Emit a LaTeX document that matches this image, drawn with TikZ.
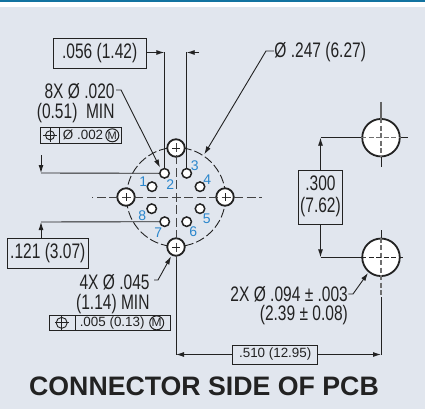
\documentclass[tikz,border=0pt]{standalone}
\usepackage{fontspec}
\usetikzlibrary{arrows.meta}
\setmainfont{Liberation Sans}
\newfontfamily\narrowfont[FakeStretch=0.74]{Liberation Sans}
\definecolor{panel}{HTML}{E1E6EE}
\definecolor{stripe}{HTML}{1273A0}
\definecolor{pinblue}{HTML}{2A86CC}
\definecolor{ink}{HTML}{222222}
\begin{document}
\begin{tikzpicture}[x=1pt,y=-1pt,line width=0.9pt,draw=ink,text=ink]
    \tikzset{hole/.style = {shape=circle,draw,fill=white,line width=1.8pt,inner sep=0pt}}
    \tikzset{pin/.style = {hole,minimum size=9.5pt,line width=1.5pt}}
    \tikzset{big/.style = {hole,minimum size=17.5pt}}
    \tikzset{huge/.style = {hole,minimum size=37.5pt}}
    \tikzset{num/.style = {text=pinblue,inner sep=0pt,font=\fontsize{14}{16}\selectfont}}
    \tikzset{dim/.style = {inner sep=0pt,font=\narrowfont\fontsize{21}{23}\selectfont}}
    \tikzset{small/.style = {inner sep=0pt,font=\fontsize{13.4}{15}\selectfont}}
    \tikzset{box/.style = {shape=rectangle,draw,inner sep=0pt}}
    \tikzset{edge/.style = {-{Latex[length=8pt,width=5pt]}}}
    \tikzset{axis/.style = {draw=ink!85,line width=1pt,dash pattern=on 9pt off 3.5pt,dash phase=4.5pt}}
    \tikzset{inner/.style = {draw=ink!65,line width=1.2pt,dash pattern=on 5pt off 2.5pt}}
    \tikzset{ring/.style = {shape=circle,draw,inner sep=0pt}}

    \fill[white] (0,0) rectangle (425,409);
    \fill[panel] (0,7) rectangle (425,409);
    \fill[stripe] (0,0) rectangle (425,1.7);

    % connector
    \coordinate (mid) at (176,197);
    \draw[dash pattern=on 9pt off 3pt] (mid) circle (49.5);
    \node[big] (holeT) at (176,148) {};
    \node[big] (holeL) at (126,197) {};
    \node[big] (holeR) at (225,197) {};
    \node[big] (holeB) at (176,247) {};
    \node[pin] (1) at (152,186.7) {};
    \node[pin] (2) at (164.5,173.3) {};
    \node[pin] (3) at (186.7,173.3) {};
    \node[pin] (4) at (200,186.7) {};
    \node[pin] (5) at (200,208.7) {};
    \node[pin] (6) at (186.7,221.7) {};
    \node[pin] (7) at (164.7,221.7) {};
    \node[pin] (8) at (151.7,208.7) {};
    \node[num] (lab1) at (143.3,181.7) {1};
    \node[num] (lab2) at (170.3,184.5) {2};
    \node[num] (lab3) at (194.7,165.3) {3};
    \node[num] (lab4) at (207.3,179.3) {4};
    \node[num] (lab5) at (206.7,218.7) {5};
    \node[num] (lab6) at (193.3,231.3) {6};
    \node[num] (lab7) at (158.3,232.3) {7};
    \node[num] (lab8) at (142.3,215.3) {8};

    \coordinate (cl1) at (92,197);
    \coordinate (cl2) at (262,197);
    \coordinate (cl3) at (176,139);
    \coordinate (cl4) at (176,260);
    \draw[axis] (mid) -- (cl1);
    \draw[axis] (mid) -- (cl2);
    \draw[axis] (mid) -- (cl3);
    \draw[axis] (mid) -- (cl4);
    \draw ([xshift=-4pt]holeT.center) -- ([xshift=4pt]holeT.center);
    \draw ([xshift=-4pt]holeB.center) -- ([xshift=4pt]holeB.center);
    \draw ([yshift=-4pt]holeL.center) -- ([yshift=4pt]holeL.center);
    \draw ([yshift=-4pt]holeR.center) -- ([yshift=4pt]holeR.center);

    % right holes
    \node[huge] (upper) at (381,137.7) {};
    \node[huge] (lower) at (381,257.3) {};
    \coordinate (up1) at (381,102);
    \coordinate (up2) at (381,167);
    \coordinate (up4) at (408,137.7);
    \coordinate (lo1) at (381,230);
    \coordinate (lo2) at (381,297);
    \coordinate (lo4) at (403,257.3);
    \draw[draw=ink!70,line width=1.3pt] (up1) -- (upper.north);
    \draw (upper.south) -- (up2);
    \draw (upper.east) -- (up4);
    \draw[inner] (upper.north) -- (upper.south);
    \draw[inner] (upper.west) -- (upper.east);
    \draw (lo1) -- (lower.north);
    \draw[inner] (lower.north) -- (lo2);
    \draw[dash pattern=on 5pt off 2.5pt] (lower.west) -- (lo4);

    % .056
    \node[box,minimum width=92.7pt,minimum height=30pt] (w056) at (99.7,53.3) {};
    \node[dim] (t056) at (99.7,53.3) {.056 (1.42)};
    \coordinate (a056) at (164.3,52.5);
    \coordinate (b056) at (186.7,52.5);
    \coordinate (c056) at (199,52.5);
    \draw[edge] (w056.east |- a056) -- (a056);
    \draw[edge] (c056) -- (b056);
    \draw (a056) -- (2.north -| a056);
    \draw (b056) -- (3.north);

    % .247
    \node[dim,anchor=west] (t247) at (274,52) {Ø .247 (6.27)};
    \coordinate (k247) at (266,51);
    \coordinate (e247) at (204.3,154.3);
    \draw[edge] (t247.west |- k247) -- (k247) -- (e247);

    % 8X
    \node[dim,anchor=east] (t8x) at (115,91.7) {8X Ø .020};
    \node[dim,anchor=east] (t051) at (115,113) {(0.51)\ \ MIN};
    \coordinate (s8x) at (116,90);
    \coordinate (k8x) at (121,90);
    \coordinate (e8x) at (160,167.5);
    \draw[edge] (s8x) -- (k8x) -- (e8x);
    \node[box,minimum width=81pt,minimum height=16pt] (f8x) at (81.2,135.3) {};
    \coordinate (d8xa) at (59.3,127.3);
    \coordinate (d8xb) at (59.3,143.3);
    \draw (d8xa) -- (d8xb);
    \node[ring,minimum size=9pt] (pos8x) at (50,135.3) {};
    \draw ([yshift=2pt]pos8x.north) -- ([yshift=-2pt]pos8x.south);
    \draw ([xshift=-2pt]pos8x.west) -- ([xshift=2pt]pos8x.east);
    \node[small,anchor=west] (t002) at (62.5,135.3) {Ø .002};
    \node[ring,minimum size=13pt,line width=1pt] (m8x) at (112.3,135.3) {\fontsize{11}{12}\selectfont M};

    % .121
    \node[box,minimum width=81pt,minimum height=30pt] (w121) at (47.8,253.2) {};
    \node[dim] (t121) at (47.8,253.2) {.121 (3.07)};
    \coordinate (a121) at (41,173);
    \coordinate (s121) at (41,155);
    \coordinate (b121) at (41,222);
    \draw[edge] (s121) -- (a121);
    \draw (a121) -- (2.west);
    \draw[edge] (w121.north -| b121) -- (b121);
    \draw (b121) -- (7.west);

    % 4X
    \node[dim,anchor=east] (t4x) at (150,282.7) {4X Ø .045};
    \node[dim,anchor=east] (t114) at (150,304) {(1.14) MIN};
    \coordinate (s4x) at (154,280);
    \coordinate (k4x) at (158,280);
    \coordinate (e4x) at (171,256.5);
    \draw[edge] (s4x) -- (k4x) -- (e4x);
    \node[box,minimum width=121.3pt,minimum height=15.7pt] (f4x) at (109.65,322.85) {};
    \coordinate (d4xa) at (75,315);
    \coordinate (d4xb) at (75,330.7);
    \draw (d4xa) -- (d4xb);
    \node[ring,minimum size=11pt] (pos4x) at (61.7,322.85) {};
    \draw ([yshift=1pt]pos4x.north) -- ([yshift=-1pt]pos4x.south);
    \draw ([xshift=-1pt]pos4x.west) -- ([xshift=1pt]pos4x.east);
    \node[small,anchor=west] (t005) at (79.3,322.85) {.005 (0.13)};
    \node[ring,minimum size=14pt,line width=1pt] (m4x) at (156.7,322.85) {\fontsize{12}{13}\selectfont M};

    % .300
    \node[box,minimum width=44.4pt,minimum height=54.3pt] (w300) at (320.5,197.2) {};
    \node[dim] (t300a) at (320.5,183.5) {.300};
    \node[dim] (t300b) at (320.5,207) {(7.62)};
    \coordinate (a300) at (320.5,137.7);
    \coordinate (b300) at (320.5,257.3);
    \draw[edge] (w300.north) -- (a300);
    \draw[edge] (w300.south) -- (b300);
    \draw (a300) -- (upper.west);
    \draw (b300) -- (lower.west);

    % 2X
    \node[dim,anchor=east] (t2x) at (348.3,294) {2X Ø .094 ± .003};
    \node[dim,anchor=east] (t239) at (348.3,315) {(2.39 ± 0.08)};
    \coordinate (k2x) at (353,294);
    \coordinate (e2x) at (368,273);
    \draw[edge] (t2x.east) -- (k2x) -- (e2x);

    % .510
    \node[box,minimum width=85pt,minimum height=19pt] (w510) at (275.2,354.5) {};
    \node[small] (t510) at (275.2,354.5) {.510 (12.95)};
    \coordinate (a510) at (176,354.5);
    \coordinate (b510) at (381,354.5);
    \draw[edge] (w510.west) -- (a510);
    \draw[edge] (w510.east) -- (b510);
    \draw (a510) -- (cl4);
    \draw (b510) -- (lo2);

    \node[inner sep=0pt,font=\bfseries\fontsize{26.7}{30}\selectfont] (title) at (204,386) {CONNECTOR SIDE OF PCB};
\end{tikzpicture}
\end{document}
